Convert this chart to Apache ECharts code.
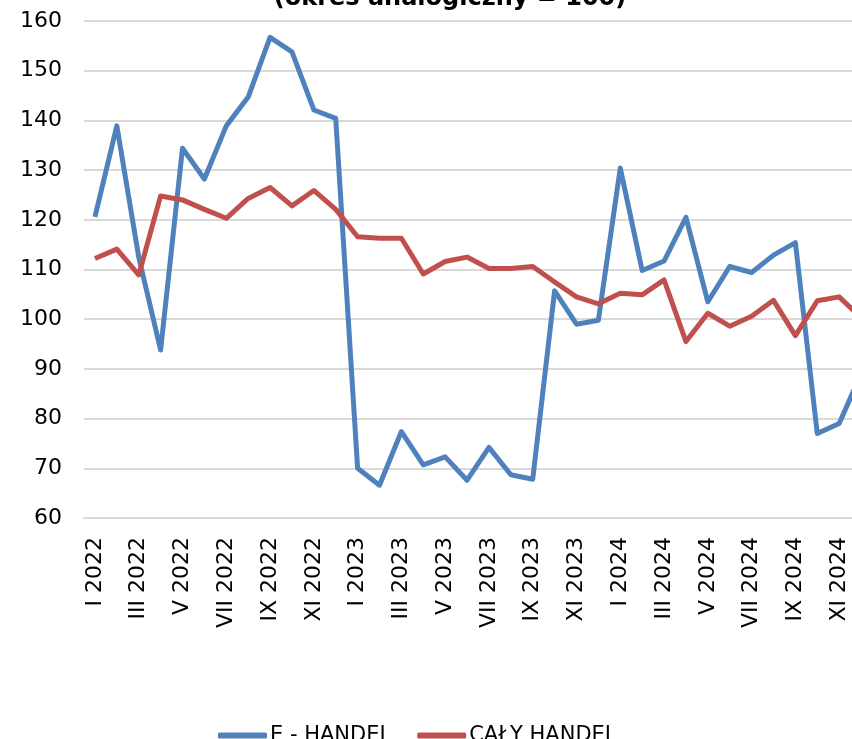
<!DOCTYPE html>
<html>
<head>
<meta charset="utf-8">
<script src="https://cdn.jsdelivr.net/npm/echarts@6/dist/echarts.min.js"></script>
<style>
html,body{margin:0;padding:0;width:852px;height:739px;overflow:hidden;background:#fff;}
#c{position:absolute;left:0;top:-40px;width:900px;height:820px;}
</style>
</head>
<body>
<div id="c"></div>
<script>
const categories = [
  "I 2022","II 2022","III 2022","IV 2022","V 2022","VI 2022","VII 2022","VIII 2022","IX 2022","X 2022","XI 2022","XII 2022",
  "I 2023","II 2023","III 2023","IV 2023","V 2023","VI 2023","VII 2023","VIII 2023","IX 2023","X 2023","XI 2023","XII 2023",
  "I 2024","II 2024","III 2024","IV 2024","V 2024","VI 2024","VII 2024","VIII 2024","IX 2024","X 2024","XI 2024","XII 2024"
];
const eHandel = [120.6, 138.9, 112.5, 93.8, 134.4, 128.2, 138.9, 144.7, 156.7, 153.8, 142.1, 140.4,
  70.0, 66.6, 77.4, 70.7, 72.3, 67.6, 74.2, 68.7, 67.8, 105.7, 99.0, 99.8,
  130.4, 109.8, 111.7, 120.5, 103.5, 110.6, 109.4, 112.9, 115.4, 77.0, 79.0, 89.0];
const calyHandel = [112.2, 114.1, 108.9, 124.8, 124.0, 122.1, 120.3, 124.3, 126.5, 122.8, 125.9, 122.1,
  116.6, 116.3, 116.3, 109.1, 111.6, 112.5, 110.2, 110.2, 110.6, 107.5, 104.5, 103.1,
  105.2, 104.9, 107.9, 95.5, 101.2, 98.6, 100.6, 103.8, 96.7, 103.7, 104.5, 100.3];
const seriesNames = ["E - HANDEL", "CAŁY HANDEL"];
const titleText = "(okres analogiczny = 100)";

const font = "'DejaVu Sans', Verdana, sans-serif";
const chart = echarts.init(document.getElementById('c'), null, {renderer: 'canvas'});
chart.setOption({
  animation: false,
  backgroundColor: '#ffffff',
  title: {
    text: titleText,
    left: 'center',
    top: 22,
    textStyle: {fontFamily: font, fontSize: 24, fontWeight: 'bold', color: '#000'}
  },
  legend: {
    left: 213,
    top: 760,
    icon: 'roundRect',
    itemWidth: 49,
    itemHeight: 6,
    itemGap: 26,
    textStyle: {fontFamily: font, fontSize: 21, color: '#000', padding: [0,0,0,-2]},
    data: seriesNames
  },
  grid: {left: 84, top: 61, width: 788, height: 497, containLabel: false},
  xAxis: {
    type: 'category',
    data: categories,
    boundaryGap: true,
    axisLine: {show: true, lineStyle: {color: '#D9D9D9', width: 2}},
    axisTick: {show: false},
    axisLabel: {
      interval: 1,
      rotate: 90,
      margin: 19,
      fontFamily: font,
      fontSize: 22,
      color: '#000'
    },
    splitLine: {show: false}
  },
  yAxis: {
    type: 'value',
    min: 60,
    max: 160,
    interval: 10,
    axisLine: {show: false},
    axisTick: {show: false},
    axisLabel: {margin: 22, fontFamily: font, fontSize: 22, color: '#000'},
    splitLine: {show: true, lineStyle: {color: '#D9D9D9', width: 2}}
  },
  series: [
    {
      name: seriesNames[0],
      type: 'line',
      data: eHandel,
      symbol: 'none',
      lineStyle: {color: '#4F81BD', width: 5, join: 'round'},
      itemStyle: {color: '#4F81BD'}
    },
    {
      name: seriesNames[1],
      type: 'line',
      data: calyHandel,
      symbol: 'none',
      lineStyle: {color: '#C0504D', width: 5, join: 'round'},
      itemStyle: {color: '#C0504D'}
    }
  ]
});
</script>
</body>
</html>
